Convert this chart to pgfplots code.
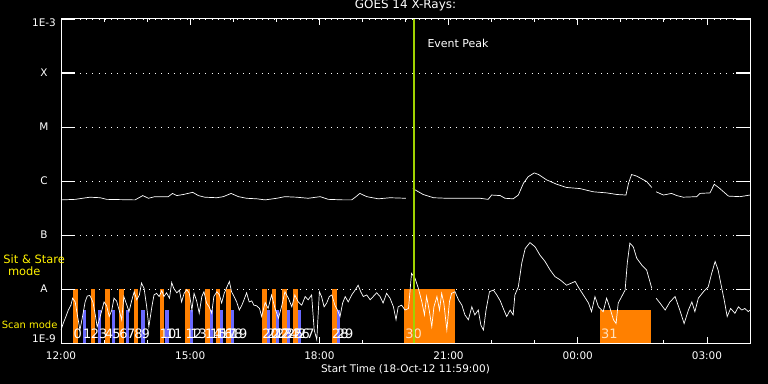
\documentclass[border=0pt]{standalone}
\usepackage{fontspec}
\setmainfont{DejaVu Sans}
\usepackage{pgfplots}
\pgfplotsset{compat=1.18}
\usepackage{pgfplotstable}
\definecolor{scanor}{RGB}{255,128,0}
\definecolor{stareblue}{RGB}{105,105,255}
\definecolor{peakgreen}{RGB}{160,210,0}
\definecolor{numpeach}{RGB}{255,225,190}

% long channel (1-8 A): hours since 12:00, log10 flux
\pgfplotstableread{
h lv
0.00 -6.35
0.33 -6.34
0.67 -6.30
0.91 -6.31
1.06 -6.34
1.72 -6.35
1.90 -6.27
2.03 -6.32
2.18 -6.29
2.49 -6.29
2.59 -6.23
2.69 -6.27
2.84 -6.25
3.06 -6.21
3.19 -6.27
3.34 -6.30
3.62 -6.31
3.77 -6.29
3.95 -6.23
4.12 -6.29
4.31 -6.32
4.55 -6.33
4.74 -6.35
5.01 -6.32
5.20 -6.29
5.47 -6.30
5.74 -6.32
6.02 -6.29
6.21 -6.34
6.56 -6.35
6.75 -6.35
6.85 -6.29
6.94 -6.23
7.10 -6.29
7.37 -6.33
7.64 -6.31
8.01 -6.32
nan nan
8.17 -6.14
8.41 -6.25
8.65 -6.31
8.96 -6.32
9.46 -6.32
9.73 -6.32
9.92 -6.34
10.00 -6.26
10.20 -6.27
10.31 -6.32
10.50 -6.33
10.62 -6.26
10.74 -6.04
10.85 -5.92
10.99 -5.85
11.09 -5.88
11.28 -5.98
11.51 -6.06
11.74 -6.12
12.05 -6.14
12.36 -6.20
12.67 -6.22
12.91 -6.25
13.12 -6.26
13.18 -6.04
13.25 -5.88
13.37 -5.91
13.60 -6.01
13.72 -6.12
nan nan
13.82 -6.20
13.99 -6.26
14.18 -6.23
14.30 -6.27
14.45 -6.30
14.76 -6.29
14.84 -6.23
15.07 -6.22
15.17 -6.06
15.30 -6.14
15.50 -6.28
15.77 -6.29
16.00 -6.26
}\longch

% short channel (0.5-4 A)
\pgfplotstableread{
h lv
0.00 -8.76
0.05 -8.64
0.11 -8.52
0.17 -8.39
0.23 -8.30
0.27 -8.17
0.33 -8.24
0.38 -8.48
0.44 -8.76
0.50 -8.51
0.56 -8.24
0.61 -8.13
0.67 -8.12
0.74 -8.24
0.79 -8.45
0.84 -8.70
0.89 -8.57
0.95 -8.39
1.00 -8.24
1.06 -8.31
1.12 -8.51
1.18 -8.39
1.23 -8.17
1.29 -8.22
1.35 -8.39
1.41 -8.57
1.46 -8.14
1.53 -8.30
1.58 -8.42
1.64 -8.22
1.70 -8.05
1.76 -8.20
1.82 -8.11
1.87 -7.89
1.93 -7.99
1.99 -8.33
2.04 -8.70
2.11 -8.33
2.16 -8.11
2.22 -8.08
2.28 -8.14
2.34 -8.03
2.39 -8.14
2.45 -8.07
2.52 -8.17
2.57 -7.88
2.62 -7.99
2.69 -8.07
2.75 -8.02
2.80 -8.24
2.86 -8.08
2.92 -8.01
2.98 -8.08
3.04 -8.39
3.09 -8.08
3.15 -8.22
3.21 -8.45
3.27 -8.14
3.32 -8.05
3.38 -8.26
3.44 -8.33
3.50 -8.45
3.55 -8.14
3.62 -8.05
3.68 -8.11
3.73 -8.26
3.79 -8.08
3.85 -7.97
3.91 -7.86
3.96 -8.05
4.02 -8.14
4.08 -8.24
4.14 -8.39
4.20 -8.30
4.25 -8.20
4.31 -8.07
4.37 -8.24
4.43 -8.22
4.48 -8.30
4.54 -8.31
4.61 -8.36
4.66 -8.51
4.74 -8.25
4.81 -8.36
4.89 -8.11
4.97 -8.36
5.05 -8.54
5.13 -8.30
5.20 -8.05
5.28 -8.17
5.36 -8.33
5.43 -8.11
5.51 -8.24
5.59 -8.30
5.67 -8.14
5.74 -8.20
5.82 -8.11
5.88 -8.76
5.94 -8.94
6.00 -8.05
6.05 -8.14
6.11 -8.33
6.17 -8.26
6.23 -8.14
6.29 -8.11
6.36 -8.30
6.42 -8.39
6.48 -8.51
6.54 -8.26
6.60 -8.14
6.67 -8.24
6.75 -8.11
6.83 -8.02
6.90 -7.93
6.96 -8.05
7.02 -8.14
7.10 -8.11
7.18 -8.20
7.25 -8.14
7.33 -8.07
7.41 -8.14
7.48 -8.26
7.56 -8.08
7.64 -8.17
7.72 -8.33
7.78 -8.57
7.83 -8.33
7.91 -8.30
7.99 -8.39
8.07 -8.36
8.14 -7.71
8.22 -7.80
8.30 -7.99
8.38 -8.24
8.44 -8.48
8.49 -8.14
8.55 -8.39
8.61 -8.70
8.66 -8.33
8.73 -8.14
8.79 -8.39
8.84 -8.08
8.89 -8.26
8.96 -8.76
9.02 -8.24
9.07 -8.08
9.15 -8.05
9.23 -8.20
9.31 -8.30
9.38 -8.48
9.46 -8.57
9.54 -8.33
9.61 -8.48
9.69 -8.39
9.75 -8.67
9.81 -8.76
9.87 -8.39
9.95 -8.05
10.04 -8.02
10.12 -8.11
10.20 -8.22
10.27 -8.36
10.35 -8.51
10.43 -8.39
10.50 -8.48
10.54 -8.11
10.62 -7.96
10.70 -7.52
10.78 -7.25
10.89 -7.14
11.01 -7.22
11.12 -7.37
11.24 -7.49
11.36 -7.65
11.47 -7.77
11.59 -7.83
11.74 -7.93
11.94 -7.86
12.01 -7.96
12.13 -8.11
12.25 -8.26
12.32 -8.42
12.40 -8.14
12.48 -8.33
12.59 -8.42
12.67 -8.17
12.75 -8.36
12.83 -8.57
12.89 -8.64
12.94 -8.26
13.02 -8.14
13.10 -8.02
13.15 -7.52
13.21 -7.15
13.29 -7.22
13.37 -7.43
13.49 -7.56
13.60 -7.65
13.72 -7.99
nan nan
13.82 -8.17
13.91 -8.26
14.03 -8.39
14.14 -8.24
14.26 -8.14
14.37 -8.39
14.47 -8.64
14.57 -8.39
14.65 -8.24
14.72 -8.42
14.80 -8.17
14.92 -8.05
15.03 -7.96
15.11 -7.71
15.19 -7.49
15.26 -7.65
15.32 -7.89
15.40 -8.20
15.47 -8.51
15.55 -8.36
15.65 -8.45
15.73 -8.33
15.81 -8.39
15.88 -8.36
15.96 -8.42
16.00 -8.39
}\shortch

\newcommand\obar[3]{\addplot[fill=scanor,draw=none,forget plot] coordinates {(#1,-9) (#1,#3) (#2,#3) (#2,-9)};}
\newcommand\bbar[2]{\addplot[fill=stareblue,draw=none,forget plot] coordinates {(#1,-9) (#1,-8.39) (#2,-8.39) (#2,-9)};}
\newcommand\num[3][white]{\node[anchor=base west,inner sep=0pt,text=#1,font=\fontsize{13}{13}\selectfont] at (axis cs:#2,-8.913) {#3};}
\newcommand\ytk[1]{\addplot[white,line width=1pt,forget plot] coordinates {(0,#1) (0.325,#1)};
  \addplot[white,line width=1pt,forget plot] coordinates {(15.675,#1) (16,#1)};}

\begin{document}
\begin{tikzpicture}
\fill[black] (-61bp,-41bp) rectangle (707bp,343bp);
\useasboundingbox (-61bp,-41bp) rectangle (707bp,343bp);
\begin{axis}[
  scale only axis, width=689bp, height=324bp,
  xmin=0, xmax=16, ymin=-9, ymax=-3,
  axis line style={white, line width=1pt},
  xtick={0,3,6,9,12,15},
  xticklabels={12:00,15:00,18:00,21:00,00:00,03:00},
  minor xtick={1,2,4,5,7,8,10,11,13,14},
  ytick={-9,-8,-7,-6,-5,-4,-3},
  yticklabels={,A,B,C,M,X,},
  tick style={white, line width=0.8pt},
  major tick length=6bp, minor tick length=3bp,
  ytick style={/pgfplots/major tick length=14bp},
  ymajorgrids,
  major grid style={white, line width=0.9pt, dash pattern=on 0.9pt off 5.4pt},
  xticklabel style={text=white, font=\fontsize{10.5}{12}\selectfont, anchor=base, yshift=-16bp},
  yticklabel style={text=white, font=\fontsize{10.5}{12}\selectfont, anchor=center, xshift=-17bp},
  xlabel={Start Time (18-Oct-12 11:59:00)},
  xlabel style={text=white, font=\fontsize{10.5}{12}\selectfont, at={(0.5,0)}, anchor=base, yshift=-29.7bp},
  title={GOES 14 X-Rays:},
  title style={text=white, font=\fontsize{12}{14}\selectfont, at={(0.5,1)}, anchor=base, yshift=5bp},
  unbounded coords=jump,
]
% scan-mode (orange) and sit-and-stare (blue) intervals
\obar{0.29}{0.40}{-8}
\obar{0.69}{0.79}{-8}
\obar{1.02}{1.14}{-8}
\obar{1.35}{1.46}{-8}
\obar{1.70}{1.79}{-8}
\obar{2.29}{2.39}{-8}
\obar{2.89}{3.00}{-8}
\obar{3.34}{3.46}{-8}
\obar{3.60}{3.69}{-8}
\obar{3.83}{3.94}{-8}
\obar{4.67}{4.78}{-8}
\obar{4.90}{4.99}{-8}
\obar{5.13}{5.24}{-8}
\obar{5.39}{5.50}{-8}
\obar{6.29}{6.40}{-8}
\obar{7.97}{9.15}{-8}
\obar{12.52}{13.70}{-8.39}
\bbar{0.50}{0.58}
\bbar{0.86}{0.94}
\bbar{1.18}{1.26}
\bbar{1.51}{1.59}
\bbar{1.86}{1.94}
\bbar{2.42}{2.50}
\bbar{3.00}{3.07}
\bbar{3.46}{3.53}
\bbar{3.69}{3.77}
\bbar{3.94}{4.01}
\bbar{4.78}{4.85}
\bbar{4.99}{5.07}
\bbar{5.24}{5.31}
\bbar{5.50}{5.57}
\bbar{6.40}{6.47}
% interval numbers
\num{0.29}{0}\num{0.51}{1}\num{0.69}{2}\num{0.88}{3}
\num{1.02}{4}\num{1.19}{5}\num{1.35}{6}\num{1.53}{7}
\num{1.70}{8}\num{1.87}{9}\num{2.29}{10}\num{2.43}{11}
\num{2.89}{12}\num{3.00}{13}\num{3.34}{14}\num{3.46}{15}
\num{3.60}{16}\num{3.69}{17}\num{3.83}{18}\num{3.94}{19}
\num{4.67}{20}\num{4.78}{21}\num{4.90}{22}\num{4.99}{23}
\num{5.13}{24}\num{5.24}{25}\num{5.39}{26}\num{5.50}{27}
\num{6.29}{28}\num{6.40}{29}
\num[numpeach]{7.99}{30}\num[numpeach]{12.54}{31}
% GOES X-ray fluxes
\addplot[white, line width=0.7pt] table[x=h, y=lv] {\longch};
\addplot[white, line width=0.7pt] table[x=h, y=lv] {\shortch};
% solid level ticks at both sides
\ytk{-8}\ytk{-7}\ytk{-6}\ytk{-5}\ytk{-4}
% event peak
\addplot[draw=peakgreen, color=peakgreen, line width=1.8pt, forget plot] coordinates {(8.19,-9) (8.19,-3)};
\node[anchor=base west, text=white, font=\fontsize{11}{12}\selectfont] at (axis cs:8.43,-3.52) {Event Peak};
\end{axis}
\node[text=white, font=\fontsize{10.5}{12}\selectfont] at (-17bp,4bp) {1E-9};
\node[text=white, font=\fontsize{10.5}{12}\selectfont] at (-17bp,320bp) {1E-3};
\node[text=yellow, font=\fontsize{11.5}{12}\selectfont] at (-26.8bp,84bp) {Sit \& Stare};
\node[text=yellow, font=\fontsize{11.5}{12}\selectfont] at (-36.7bp,71.3bp) {mode};
\node[text=yellow, font=\fontsize{10}{12}\selectfont] at (-31.4bp,18.7bp) {Scan mode};
\end{tikzpicture}
\end{document}
